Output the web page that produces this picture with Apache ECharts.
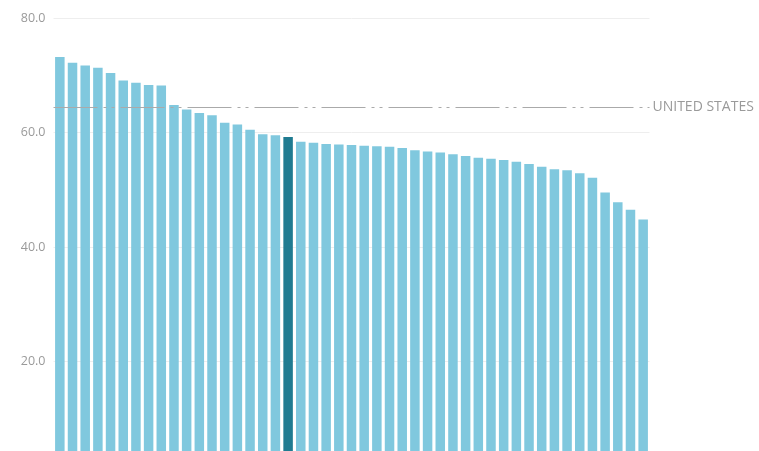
<!DOCTYPE html>
<html>
<head>
<meta charset="utf-8">
<script src="https://cdn.jsdelivr.net/npm/echarts@6/dist/echarts.min.js"></script>
<style>html,body{margin:0;padding:0;background:#fff;width:759px;height:451px;overflow:hidden;}#chart{width:759px;height:476px;}</style>
</head>
<body>
<div id="chart"></div>
<script>
const values = [73.2, 72.2, 71.7, 71.3, 70.4, 69.1, 68.7, 68.3, 68.2, 64.8,
  64.0, 63.4, 63.0, 61.7, 61.4, 60.5, 59.7, 59.5, 59.2, 58.4,
  58.2, 58.0, 57.9, 57.8, 57.7, 57.6, 57.5, 57.3, 56.9, 56.7,
  56.5, 56.2, 55.9, 55.6, 55.4, 55.2, 54.9, 54.5, 54.0, 53.6,
  53.4, 52.9, 52.1, 49.5, 47.8, 46.5, 44.8];
const categories = values.map((v, i) => String(i + 1));
const highlightIndex = 18;
const referenceValue = 64.4;
const referenceLabel = 'UNITED STATES';
const yTicks = { min: 0, max: 80, interval: 20 };

const chart = echarts.init(document.getElementById('chart'));
chart.setOption({
  animation: false,
  backgroundColor: '#ffffff',
  grid: { left: 53.5, right: 109.5, top: 18, bottom: 0, containLabel: false },
  xAxis: {
    type: 'category', data: categories,
    axisLine: { show: false }, axisTick: { show: false }, axisLabel: { show: false },
    splitLine: { show: false }
  },
  yAxis: {
    type: 'value', min: yTicks.min, max: yTicks.max, interval: yTicks.interval,
    axisLine: { show: false }, axisTick: { show: false },
    axisLabel: {
      color: '#9a9a9a', fontSize: 12.5, fontFamily: 'Open Sans', margin: 8,
      formatter: v => v === 0 ? '' : v.toFixed(1)
    },
    splitLine: { show: true, lineStyle: { color: '#eeeeee', width: 1 } }
  },
  series: [{
    type: 'bar',
    barCategoryGap: '25%',
    data: values.map((v, i) => ({
      value: v,
      itemStyle: { color: i === highlightIndex ? '#1f7b91' : '#80c8de' }
    })),
    markLine: {
      silent: true,
      symbol: 'none',
      data: [{ yAxis: referenceValue }],
      lineStyle: { color: '#aaaaaa', width: 1, type: [44, 6, 3, 5, 3, 6] },
      label: {
        show: true, position: 'end', distance: 3,
        formatter: referenceLabel,
        color: '#9a9a9a', fontSize: 14, fontFamily: 'Open Sans'
      }
    }
  }]
});
</script>
</body>
</html>
